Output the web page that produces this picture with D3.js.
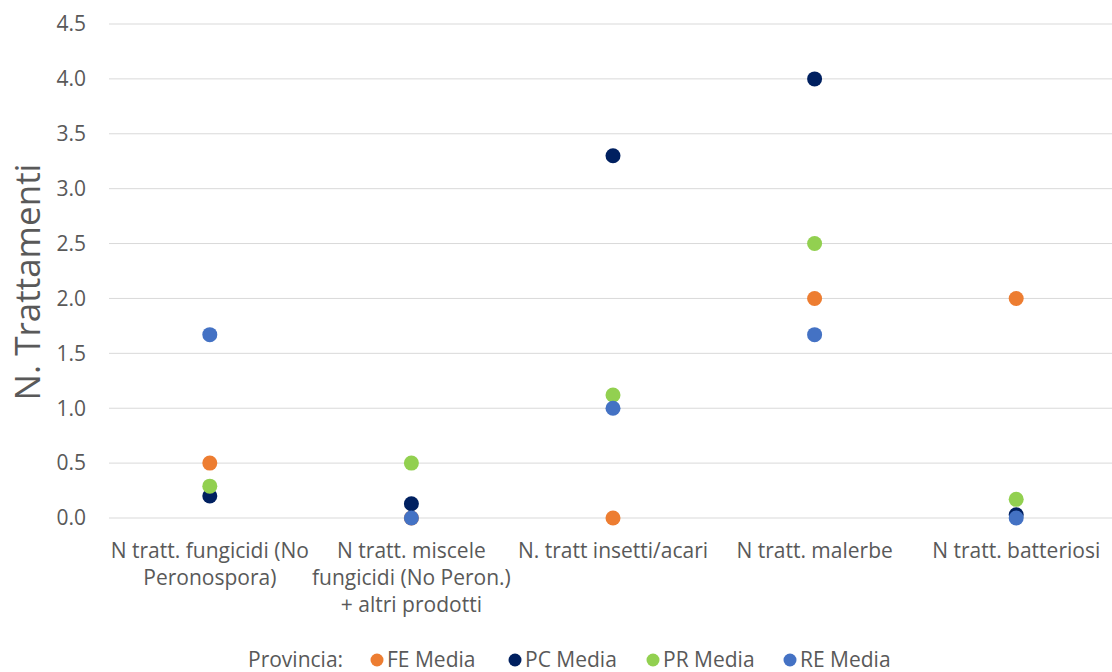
<!DOCTYPE html>
<html>
<head>
<meta charset="utf-8">
<script src="https://cdn.jsdelivr.net/npm/d3@7"></script>
<style>
  html, body { margin: 0; padding: 0; background: #fff; }
  svg { display: block; font-family: "Open Sans", "Liberation Sans", sans-serif; }
</style>
</head>
<body>
<svg id="chart" width="1112" height="672"></svg>
<script>
// Categories (each label split into its display lines)
const categories = [
  ["N tratt. fungicidi (No", "Peronospora)"],
  ["N tratt. miscele", "fungicidi (No Peron.)", "+ altri prodotti"],
  ["N. tratt insetti/acari"],
  ["N tratt. malerbe"],
  ["N tratt. batteriosi"]
];
const seriesNames = ["FE Media", "PC Media", "PR Media", "RE Media"];
const feMedia = [0.5, 0, 0, 2.0, 2.0];
const pcMedia = [0.2, 0.13, 3.3, 4.0, 0.03];
const prMedia = [0.29, 0.5, 1.12, 2.5, 0.17];
const reMedia = [1.67, 0, 1.0, 1.67, 0];
const yTicks = [0, 0.5, 1.0, 1.5, 2.0, 2.5, 3.0, 3.5, 4.0, 4.5];
const colors = ["#ED7D31", "#002060", "#92D050", "#4472C4"];

const series = [feMedia, pcMedia, prMedia, reMedia];
const svg = d3.select("#chart");
const margin = { left: 109, right: -5, top: 24, bottom: 154 };
const W = 1112, H = 672;
const textColor = "#595959";
const fs = 21;

const x = d3.scaleBand()
  .domain(d3.range(categories.length))
  .range([margin.left, W - margin.right])
  .padding(0);
const y = d3.scaleLinear().domain([0, 4.5]).range([H - margin.bottom, margin.top]);

// Horizontal gridlines
svg.append("g").selectAll("line").data(yTicks).join("line")
  .attr("x1", margin.left).attr("x2", W - margin.right)
  .attr("y1", d => y(d)).attr("y2", d => y(d))
  .attr("stroke", "#D9D9D9").attr("stroke-width", 1);

// Y tick labels
svg.append("g").selectAll("text").data(yTicks).join("text")
  .attr("x", 86).attr("y", d => y(d))
  .attr("dy", "0.35em").attr("text-anchor", "end")
  .attr("font-size", fs).attr("fill", textColor)
  .text(d => d.toFixed(1));

// Y axis title
svg.append("text")
  .attr("transform", "translate(40, 282) rotate(-90)")
  .attr("text-anchor", "middle")
  .attr("font-size", 35).attr("fill", textColor)
  .text("N. Trattamenti");

// Category labels
const catG = svg.append("g").selectAll("text").data(categories).join("text")
  .attr("text-anchor", "middle")
  .attr("font-size", fs).attr("fill", textColor);
catG.selectAll("tspan").data((d, i) => d.map(line => ({ line, i }))).join("tspan")
  .attr("x", d => x(d.i) + x.bandwidth() / 2)
  .attr("y", (d, j) => 558 + j * 27)
  .text(d => d.line);

// Points
series.forEach((vals, s) => {
  svg.append("g").selectAll("circle").data(vals).join("circle")
    .attr("cx", (d, i) => x(i) + x.bandwidth() / 2)
    .attr("cy", d => y(d))
    .attr("r", 7.5)
    .attr("fill", colors[s]);
});

// Legend
const legend = svg.append("g").attr("font-size", fs).attr("fill", textColor);
legend.append("text").attr("x", 248).attr("y", 660).attr("dy", "0.35em").text("Provincia:");
const legX = [377, 515, 653, 790];
seriesNames.forEach((name, i) => {
  legend.append("circle").attr("cx", legX[i]).attr("cy", 660).attr("r", 6.5).attr("fill", colors[i]);
  legend.append("text").attr("x", legX[i] + 10).attr("y", 660).attr("dy", "0.35em").text(name);
});
</script>
</body>
</html>
